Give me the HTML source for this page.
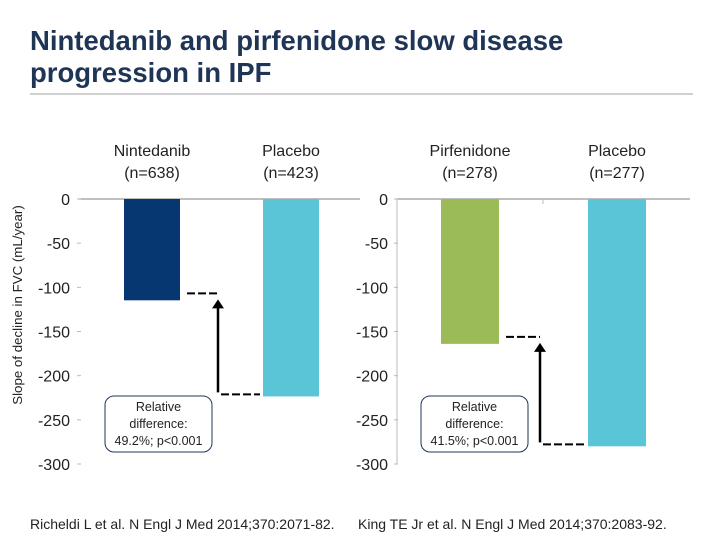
<!DOCTYPE html>
<html><head><meta charset="utf-8"><style>
body{margin:0;background:#fff;font-family:"Liberation Sans",sans-serif}
svg text{font-family:"Liberation Sans",sans-serif}
</style></head><body>
<svg width="720" height="540">
<text x="30" y="50" font-size="27.5" font-weight="bold" fill="#1f3556">Nintedanib and pirfenidone slow disease</text>
<text x="30" y="82" font-size="27.5" font-weight="bold" fill="#1f3556">progression in IPF</text>
<line x1="30" y1="94" x2="693" y2="94" stroke="#a0a0a0" stroke-width="1"/>
<text transform="translate(22,305) rotate(-90)" text-anchor="middle" font-size="13.3" fill="#222">Slope of decline in FVC (mL/year)</text>
<g id="charts"></g>
<text x="30" y="529" font-size="14" fill="#222">Richeldi L et al. N Engl J Med 2014;370:2071-82.</text>
<text x="358" y="529" font-size="14" fill="#222">King TE Jr et al. N Engl J Med 2014;370:2083-92.</text>
</svg>
<script>
const leftCategories=["Nintedanib","Placebo"];
const leftN=["(n=638)","(n=423)"];
const leftValues=[-114.7,-223.5];
const rightCategories=["Pirfenidone","Placebo"];
const rightN=["(n=278)","(n=277)"];
const rightValues=[-164,-280];
const ticks=[0,-50,-100,-150,-200,-250,-300];
const leftDiff="49.2%; p<0.001";
const rightDiff="41.5%; p<0.001";

const NS="http://www.w3.org/2000/svg";
const g=document.getElementById('charts');
function mk(tag,attrs,txt){const e=document.createElementNS(NS,tag);for(const k in attrs)e.setAttribute(k,attrs[k]);if(txt!==undefined)e.textContent=txt;g.appendChild(e);return e;}
const y=v=>199+(-v)/300*265;

function panel(p,cats,ns,vals,colors,diff){
  const {labelX,axisX,lineEnd,barX,barW,vaxis,diffBox,arrowX}=p;
  let e=mk('line',{x1:axisX,y1:199,x2:lineEnd,y2:199,stroke:'#999','stroke-width':1.2});
  
  
  if(vaxis){e=mk('line',{x1:axisX+1,y1:199,x2:axisX+1,y2:y(-300),stroke:'#bbb'});
    
    }
  ticks.forEach(t=>{
    e=mk('line',{x1:axisX-2,y1:y(t),x2:axisX+2,y2:y(t),stroke:'#bbb'});
    
    
    e=mk('text',{x:labelX,y:y(t)+6,'text-anchor':'end','font-size':16,fill:'#222'},String(t));
    
    
  });
  vals.forEach((v,i)=>{
    const cx=barX[i]+barW/2;
    e=mk('rect',{x:barX[i],y:199,width:barW,height:y(v)-199,fill:colors[i]});
    
    
    e=mk('text',{x:cx,y:156,'text-anchor':'middle','font-size':16,fill:'#222'},cats[i]);
    
    
    e=mk('text',{x:cx,y:178,'text-anchor':'middle','font-size':16,fill:'#222'},ns[i]);
    
    
  });
  const y0=y(vals[0]),y1=y(vals[1]);
  e=mk('line',{x1:barX[0]+barW+7,y1:y0-7,x2:arrowX,y2:y0-7,stroke:'#000','stroke-width':2,'stroke-dasharray':'8,3'});
  
  
  e=mk('line',{x1:arrowX+3,y1:y1-2,x2:barX[1]-3,y2:y1-2,stroke:'#000','stroke-width':2,'stroke-dasharray':'8,3'});
  
  
  e=mk('line',{x1:arrowX,y1:y1-4,x2:arrowX,y2:y0+6,stroke:'#000','stroke-width':2.5});
  
  
  e=mk('polygon',{points:`${arrowX-6},${y0+8} ${arrowX+6},${y0+8} ${arrowX},${y0-1}`,fill:'#000'});
  
  
  e=mk('rect',{x:diffBox,y:396,width:107,height:56,rx:9,fill:'#fff',stroke:'#1f3556','stroke-width':1});
  
  
  ['Relative','difference:',diff].forEach((s,k)=>{
    e=mk('text',{x:diffBox+53.5,y:411+k*17,'text-anchor':'middle','font-size':12.5,fill:'#222'},s);
    
    
  });
}
panel({id:'left',labelX:70,axisX:79,lineEnd:360,barX:[124,263],barW:56,vaxis:false,diffBox:105,arrowX:218},
  leftCategories,leftN,leftValues,['#063770','#5bc5d8'],leftDiff);
panel({id:'right',labelX:388,axisX:396,lineEnd:690,barX:[441,588],barW:58,vaxis:true,diffBox:421,arrowX:540},
  rightCategories,rightN,rightValues,['#9bbb59','#5bc5d8'],rightDiff);
let t=mk('line',{x1:543,y1:199,x2:543,y2:204,stroke:'#bbb'});


</script>
</body></html>
